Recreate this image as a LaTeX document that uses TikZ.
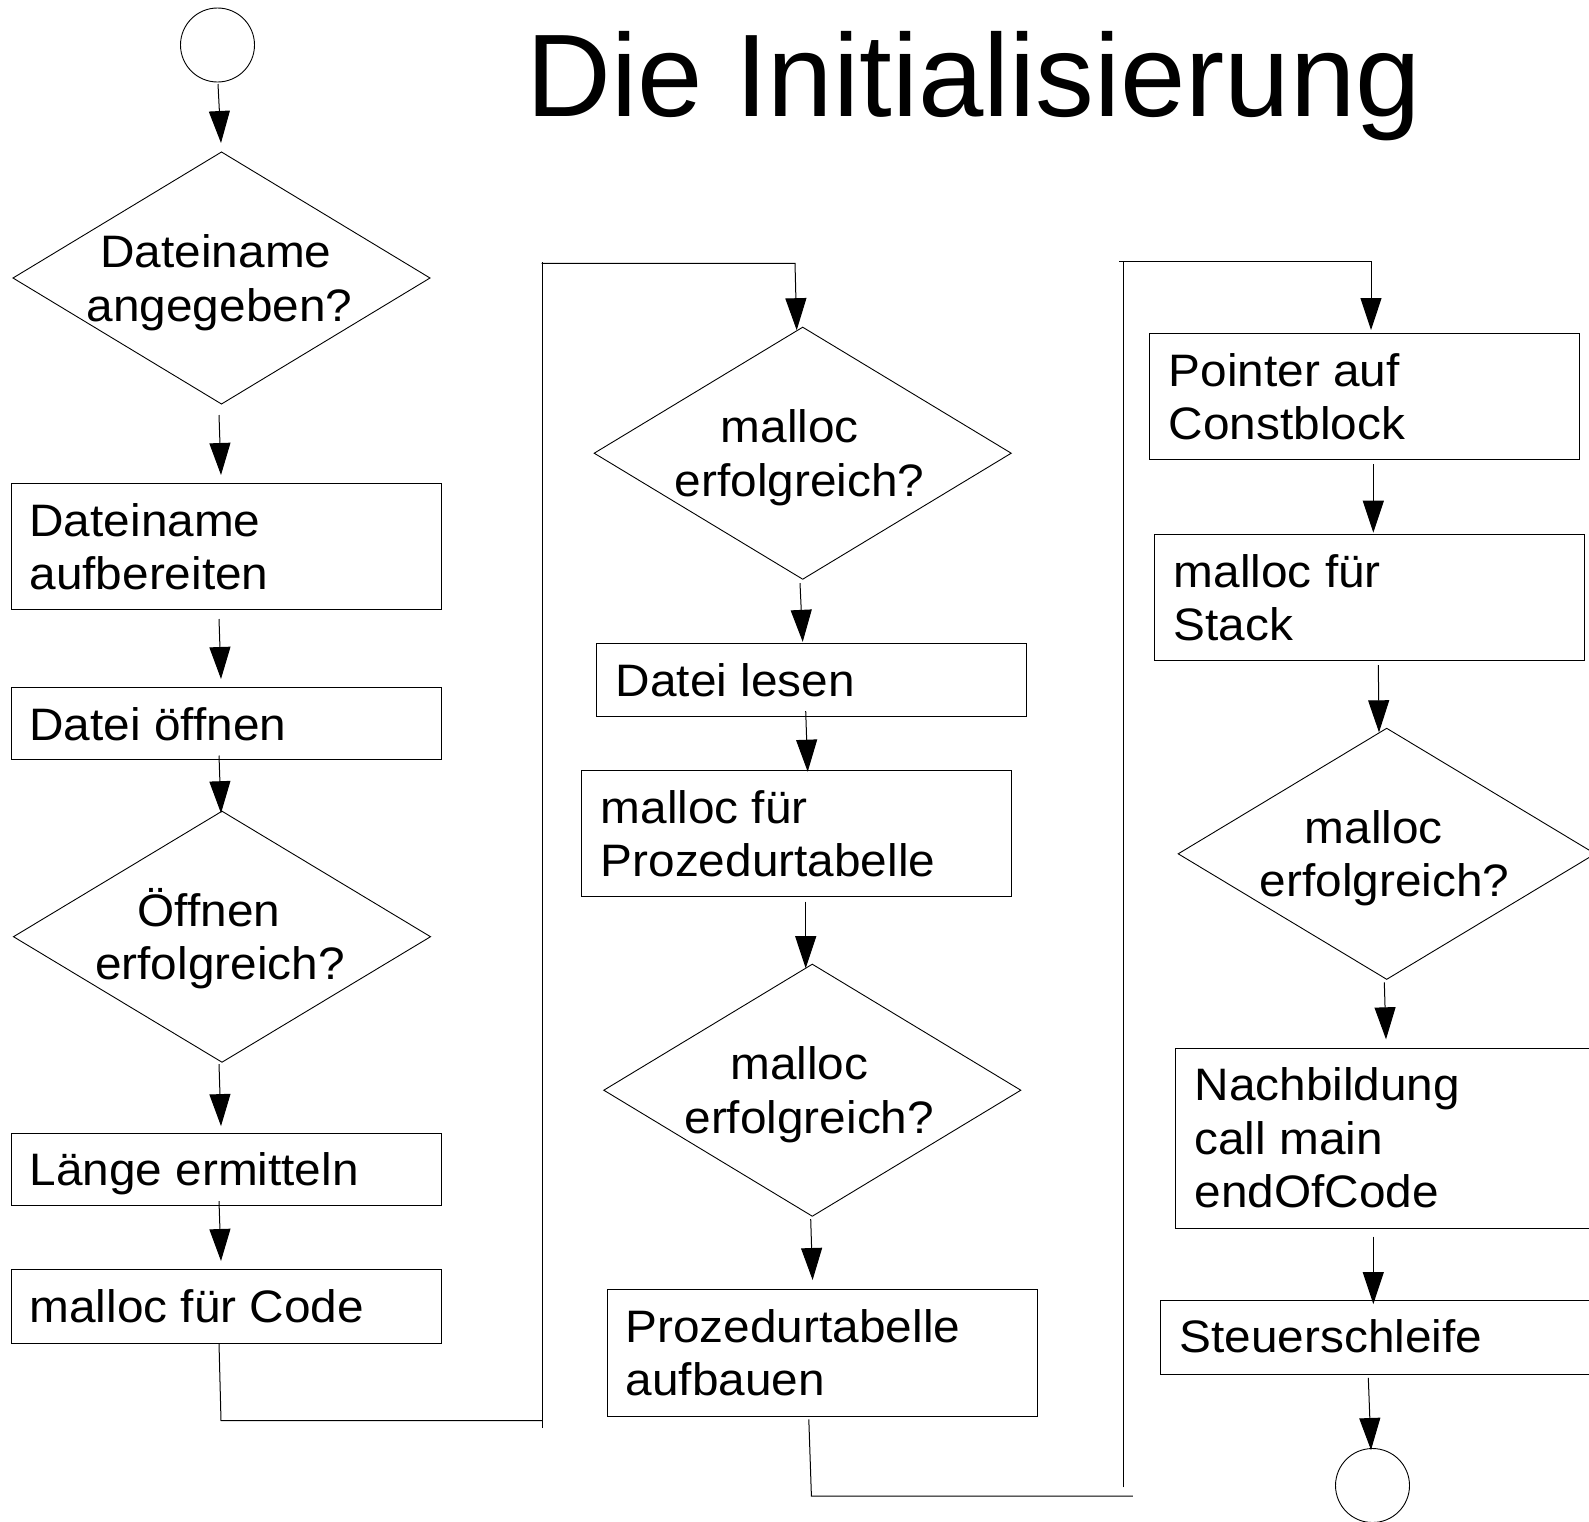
\documentclass[tikz,border=0pt]{standalone}
\usepackage{fontspec}
\setmainfont{Liberation Sans}
\newfontfamily\bodyfont[FakeStretch=1.05]{Liberation Sans}
\usetikzlibrary{arrows.meta,calc,shapes.geometric}
\newcommand{\mylines}[2]{\begin{tabular}[t]{@{}#1@{}}#2\end{tabular}}
\begin{document}
\begin{tikzpicture}[x=1pt,y=-1pt,
  box/.style={draw, rectangle, line width=1pt, inner sep=0pt, outer sep=0pt},
  dia/.style={draw, diamond, line width=0.9pt, inner sep=0pt, outer sep=0pt, minimum width=417pt, minimum height=252pt},
  term/.style={draw, circle, line width=0.9pt, inner sep=0pt, outer sep=0pt},
  txt/.style={font=\bodyfont\fontsize{45.5}{53.5}\selectfont, inner sep=0pt, outer sep=0pt},
  ttl/.style={font=\fontsize{117.5}{130}\selectfont, inner sep=0pt, outer sep=0pt},
  conn/.style={line width=1pt},
  arr/.style={conn, -{Triangle[length=32pt,width=21pt]}}
]
\useasboundingbox (0,0) rectangle (1589,1521);
\clip (0,0) rectangle (1589,1521);
\fill[white] (0,0) rectangle (1589,1521);

% title
\node[ttl, anchor=base west] (title) at (526.5,116.7) {Die Initialisierung};

% left column
\node[term, minimum size=74pt] (s) at (217.5,45) {};
\node[dia] (d1) at (221.5,278) {};
\node[box, minimum width=430pt, minimum height=126pt] (b1) at (226,546) {};
\node[box, minimum width=430pt, minimum height=72pt] (b2) at (226,723.5) {};
\node[dia, minimum height=251pt] (d2) at (222,936.7) {};
\node[box, minimum width=430pt, minimum height=72pt] (b3) at (226,1169.6) {};
\node[box, minimum width=430pt, minimum height=74pt] (b4) at (226,1306) {};

% middle column
\node[dia] (d3) at (802.7,453.2) {};
\node[box, minimum width=430pt, minimum height=72.7pt] (b5) at (811.7,679.7) {};
\node[box, minimum width=430pt, minimum height=126pt] (b6) at (796.7,833.7) {};
\node[dia] (d4) at (812.3,1090.2) {};
\node[box, minimum width=430pt, minimum height=127.4pt] (b7) at (822.1,1353) {};

% right column
\node[box, minimum width=430pt, minimum height=126pt] (b8) at (1364.3,396.3) {};
\node[box, minimum width=430pt, minimum height=126pt] (b9) at (1369.3,597) {};
\node[dia, minimum height=251pt] (d5) at (1386.7,853.8) {};
\node[box, minimum width=440pt, minimum height=180pt] (b10) at (1395,1138.3) {};
\node[box, minimum width=440pt, minimum height=74.3pt] (b11) at (1380,1337.2) {};
\node[term, minimum size=74pt] (e) at (1372.5,1485.5) {};

% texts in diamonds
\node[txt, anchor=base] (t1) at ($(d1.center)+(-2,-10.5)$) {\mylines{c}{Dateiname\kern7pt\\angegeben?}};
\node[txt, anchor=base] (t2) at ($(d2.center)+(-2,-10.5)$) {\mylines{c}{Öffnen\kern22pt\\erfolgreich?}};
\node[txt, anchor=base] (t3) at ($(d3.center)+(-3,-10.5)$) {\mylines{c}{malloc\kern20pt\\erfolgreich?}};
\node[txt, anchor=base] (t4) at ($(d4.center)+(-3,-10.5)$) {\mylines{c}{malloc\kern20pt\\erfolgreich?}};
\node[txt, anchor=base] (t5) at ($(d5.center)+(-2,-10.5)$) {\mylines{c}{malloc\kern22pt\\erfolgreich?}};

% texts in boxes
\node[txt, anchor=base west] (tb1) at ($(b1.north west)+(18.5,53)$) {\mylines{l}{Dateiname\\aufbereiten}};
\node[txt, anchor=base west] (tb2) at ($(b2.north west)+(18.5,53)$) {Datei öffnen};
\node[txt, anchor=base west] (tb3) at ($(b3.north west)+(18.5,52)$) {Länge ermitteln};
\node[txt, anchor=base west] (tb4) at ($(b4.north west)+(18.5,53)$) {malloc für Code};
\node[txt, anchor=base west] (tb5) at ($(b5.north west)+(19,53)$) {Datei lesen};
\node[txt, anchor=base west] (tb6) at ($(b6.north west)+(19,52.5)$) {\mylines{l}{malloc für\\Prozedurtabelle}};
\node[txt, anchor=base west] (tb7) at ($(b7.north west)+(18.5,53)$) {\mylines{l}{Prozedurtabelle\\aufbauen}};
\node[txt, anchor=base west] (tb8) at ($(b8.north west)+(19.5,53)$) {\mylines{l}{Pointer auf\\Constblock}};
\node[txt, anchor=base west] (tb9) at ($(b9.north west)+(19.5,53)$) {\mylines{l}{malloc für\\Stack}};
\node[txt, anchor=base west] (tb10) at ($(b10.north west)+(19.5,52.5)$) {\mylines{l}{Nachbildung\\call main\\endOfCode}};
\node[txt, anchor=base west] (tb11) at ($(b11.north west)+(19.5,52.7)$) {Steuerschleife};

% left column arrows
\draw[arr] ($(s.south)+(0.5,2)$) -- ($(d1.north)+(-0.5,-9)$);
\draw[arr] ($(d1.south)+(-2.5,11)$) -- ($(b1.north)+(-5,-8)$);
\draw[arr] ($(b1.south)+(-7,10)$) -- ($(b2.north)+(-5,-8.5)$);
\draw[arr] ($(b2.south)+(-7,-4)$) -- ($(d2.north)+(-1,2)$);
\draw[arr] ($(d2.south)+(-3,2)$) -- ($(b3.north)+(-5,-7.5)$);
\draw[arr] ($(b3.south)+(-7,-4.5)$) -- ($(b4.north)+(-5,-8)$);

% connector left -> middle
\coordinate (L1) at (221,1420.7);
\coordinate (L2) at (542.7,1420.7);
\coordinate (L3) at (542.7,1428);
\coordinate (L4) at (542.7,261.7);
\coordinate (L5) at (541.7,263.3);
\coordinate (L6) at (795,263.3);
\draw[conn] ($(b4.south)+(-7,0)$) -- (L1) -- (L2);
\draw[conn] (L3) -- (L4);
\draw[arr] (L5) -- (L6) -- ($(d3.north)+(-6,3)$);

% middle column arrows
\draw[arr] ($(d3.south)+(-2.7,4)$) -- ($(b5.north)+(-9,-1.5)$);
\draw[arr] ($(b5.south)+(-6,-5)$) -- ($(b6.north)+(11,1)$);
\draw[arr] ($(b6.south)+(9,5)$) -- ($(d4.north)+(-6.6,4)$);
\draw[arr] ($(d4.south)+(-1.6,3)$) -- ($(b7.north)+(-9.5,-9.3)$);

% connector middle -> right
\coordinate (M1) at (811.4,1496);
\coordinate (M2) at (1132.9,1496);
\coordinate (M3) at (1123.5,1487.3);
\coordinate (M4) at (1123.5,260.7);
\coordinate (M5) at (1119.3,261);
\coordinate (M6) at (1371,261);
\draw[conn] ($(b7.south)+(-13.3,2.6)$) -- (M1) -- (M2);
\draw[conn] (M3) -- (M4);
\draw[arr] (M5) -- (M6) -- ($(b8.north)+(6.7,-3.3)$);

% right column arrows
\draw[arr] ($(b8.south)+(9,5)$) -- ($(b9.north)+(4,-1.3)$);
\draw[arr] ($(b9.south)+(9,5)$) -- ($(d5.north)+(-7.7,4)$);
\draw[arr] ($(d5.south)+(-2.4,3)$) -- ($(b10.north)+(-9,-9)$);
\draw[arr] ($(b10.south)+(-21.7,8.4)$) -- ($(b11.north)+(-6.7,4)$);
\draw[arr] ($(b11.south)+(-11.7,3.4)$) -- ($(e.north)+(-1.5,1.5)$);
\end{tikzpicture}
\end{document}
